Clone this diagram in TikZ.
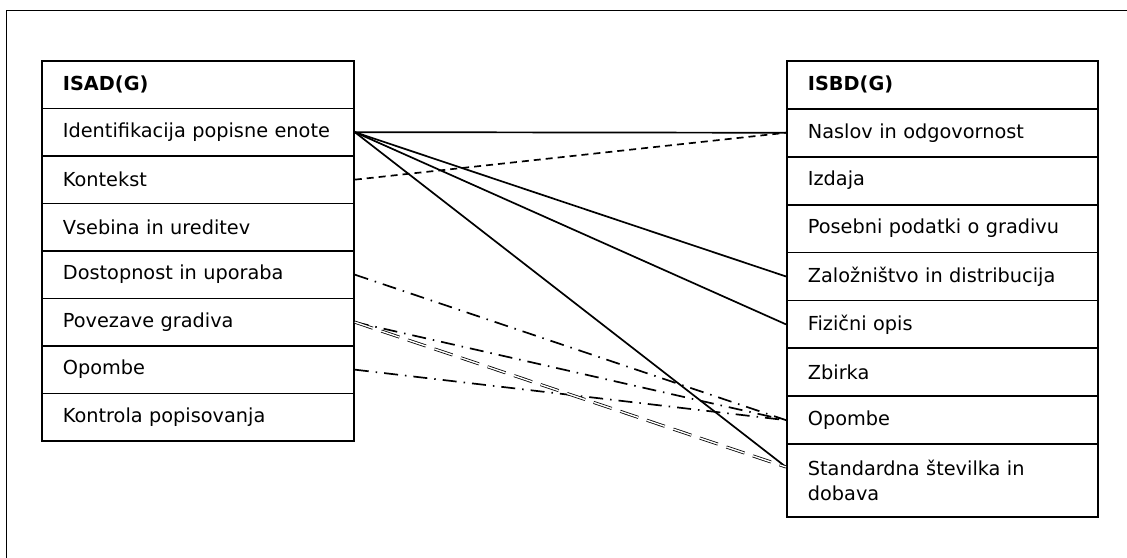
\documentclass[tikz,border=0pt]{standalone}
\usepackage{fontspec}
\setmainfont{DejaVu Sans}
\usetikzlibrary{calc}

\newcommand{\cellfont}{\fontsize{19.3}{25}\selectfont}

\begin{document}
\begin{tikzpicture}[x=1pt, y=-1pt,
    cell/.style={draw, line width=1.8pt, anchor=north west, font=\cellfont,
      inner xsep=21pt, inner ysep=0pt, align=left},
    lcell/.style={cell, text width=270pt, minimum height=47.5pt},
    rcell/.style={cell, text width=269pt, minimum height=47.9pt},
    head/.style={font=\cellfont\bfseries},
    link/.style={line width=1.7pt},
    dashlink/.style={line width=1.7pt, dash pattern=on 7pt off 5pt},
    dotlink/.style={line width=1.7pt, dash pattern=on 14pt off 7pt on 1.5pt off 7pt},
    dbllink/.style={double, double distance=1.4pt, line width=0.8pt, dash pattern=on 19pt off 9pt}]
  \useasboundingbox (0,0) rectangle (1127,557);
  \draw[line width=1.8pt] (6.5,10.5) rectangle (1140,570);

  % ISAD(G)
  \node[lcell, head] (l0) at (41,60) {ISAD(G)};
  \foreach \txt [count=\i] in {Identifikacija popisne enote, Kontekst,
      Vsebina in ureditev, Dostopnost in uporaba, Povezave gradiva, Opombe,
      Kontrola popisovanja}
    \node[lcell] (l\i) at (41,60+47.5*\i) {\txt};

  % ISBD(G)
  \node[rcell, head] (r0) at (786,60) {ISBD(G)};
  \foreach \txt [count=\i] in {Naslov in odgovornost, Izdaja,
      Posebni podatki o gradivu, Založništvo in distribucija, Fizični opis,
      Zbirka, Opombe}
    \node[rcell] (r\i) at (786,60+47.9*\i) {\txt};
  \node[rcell, minimum height=73pt] (r8) at (786,443) {Standardna številka in\\dobava};
  \coordinate (r8in) at ($(r8.north west)+(0,24)$);

  % povezave
  \draw[link] (l1.east) -- (r1.west);
  \draw[link] (l1.east) -- (r4.west);
  \draw[link] (l1.east) -- (r5.west);
  \draw[link] (l1.east) -- (r8in);
  \draw[dashlink] (l2.east) -- (r1.west);
  \draw[dotlink] (l4.east) -- (r7.west);
  \draw[dotlink] (l5.east) -- (r7.west);
  \draw[dotlink] (l6.east) -- (r7.west);
  \draw[dbllink] (l5.east) -- (r8in);
\end{tikzpicture}
\end{document}
